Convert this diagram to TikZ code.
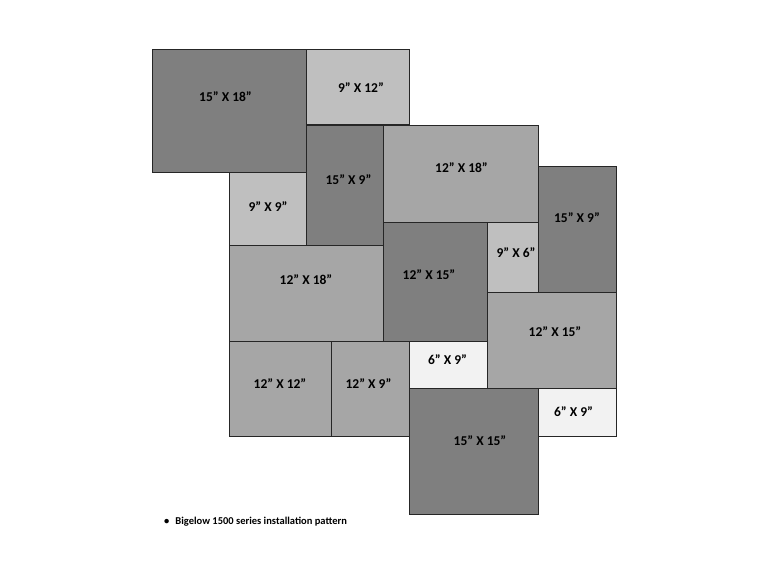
\documentclass[tikz,border=0pt]{standalone}
\usepackage{fontspec}
\setmainfont{Carlito}
\definecolor{tiledark}{HTML}{7F7F7F}
\definecolor{tilemid}{HTML}{A6A6A6}
\definecolor{tilelight}{HTML}{BFBFBF}
\definecolor{tilepale}{HTML}{F2F2F2}
\definecolor{tileedge}{HTML}{262626}
\tikzset{
  tile/.style={draw=tileedge,line width=1.2pt,anchor=north west,inner sep=0pt},
  dark/.style={tile,fill=tiledark},
  mid/.style={tile,fill=tilemid},
  light/.style={tile,fill=tilelight},
  pale/.style={tile,fill=tilepale}
}
\begin{document}
\begin{tikzpicture}[x=1pt,y=-1pt]
\useasboundingbox (0,0) rectangle (768,576);

\begin{scope}
    \node[dark, minimum width=154pt, minimum height=123pt] (A) at (152,49) {};
    \node[light, minimum width=103pt, minimum height=75pt] (B) at (306,49) {};
    \node[dark, minimum width=77pt, minimum height=120pt] (C) at (306,125) {};
    \node[mid, minimum width=155pt, minimum height=97pt] (D) at (383,125) {};
    \node[light, minimum width=77pt, minimum height=73pt] (E) at (229,172) {};
    \node[dark, minimum width=78pt, minimum height=126pt] (F) at (538,166) {};
    \node[mid, minimum width=154pt, minimum height=96pt] (G) at (229,245) {};
    \node[dark, minimum width=104pt, minimum height=119pt] (H) at (383,222) {};
    \node[light, minimum width=51pt, minimum height=70pt] (I) at (487,222) {};
    \node[mid, minimum width=129pt, minimum height=96pt] (J) at (487,292) {};
    \node[mid, minimum width=102pt, minimum height=95pt] (K) at (229,341) {};
    \node[mid, minimum width=78pt, minimum height=95pt] (L) at (331,341) {};
    \node[pale, minimum width=78pt, minimum height=47pt] (M) at (409,341) {};
    \node[dark, minimum width=129pt, minimum height=126pt] (N) at (409,388) {};
    \node[pale, minimum width=78pt, minimum height=48pt] (O) at (538,388) {};
\end{scope}

\begin{scope}[every node/.style={font=\bfseries\fontsize{13.5}{14}\selectfont,text=black,inner sep=0pt}]
    \node (lA) at (225.5,97) {15” X 18”};
    \node (lB) at (361,88) {9” X 12”};
    \node (lC) at (348.5,180) {15” X 9”};
    \node (lD) at (461.5,168) {12” X 18”};
    \node (lE) at (268,207) {9” X 9”};
    \node (lF) at (577,217.5) {15” X 9”};
    \node (lG) at (306,280) {12” X 18”};
    \node (lH) at (429,275) {12” X 15”};
    \node (lI) at (516,253) {9” X 6”};
    \node (lJ) at (555,331.5) {12” X 15”};
    \node (lK) at (280,384) {12” X 12”};
    \node (lL) at (368.5,384) {12” X 9”};
    \node (lM) at (447.5,360) {6” X 9”};
    \node (lN) at (480,441) {15” X 15”};
    \node (lO) at (573.5,412) {6” X 9”};
\end{scope}

\node[font=\bfseries\fontsize{10.5}{12}\selectfont,anchor=west,inner sep=0pt] (note) at (164,522)
    {\textbullet\hspace{6pt}Bigelow 1500 series installation pattern};
\end{tikzpicture}
\end{document}
